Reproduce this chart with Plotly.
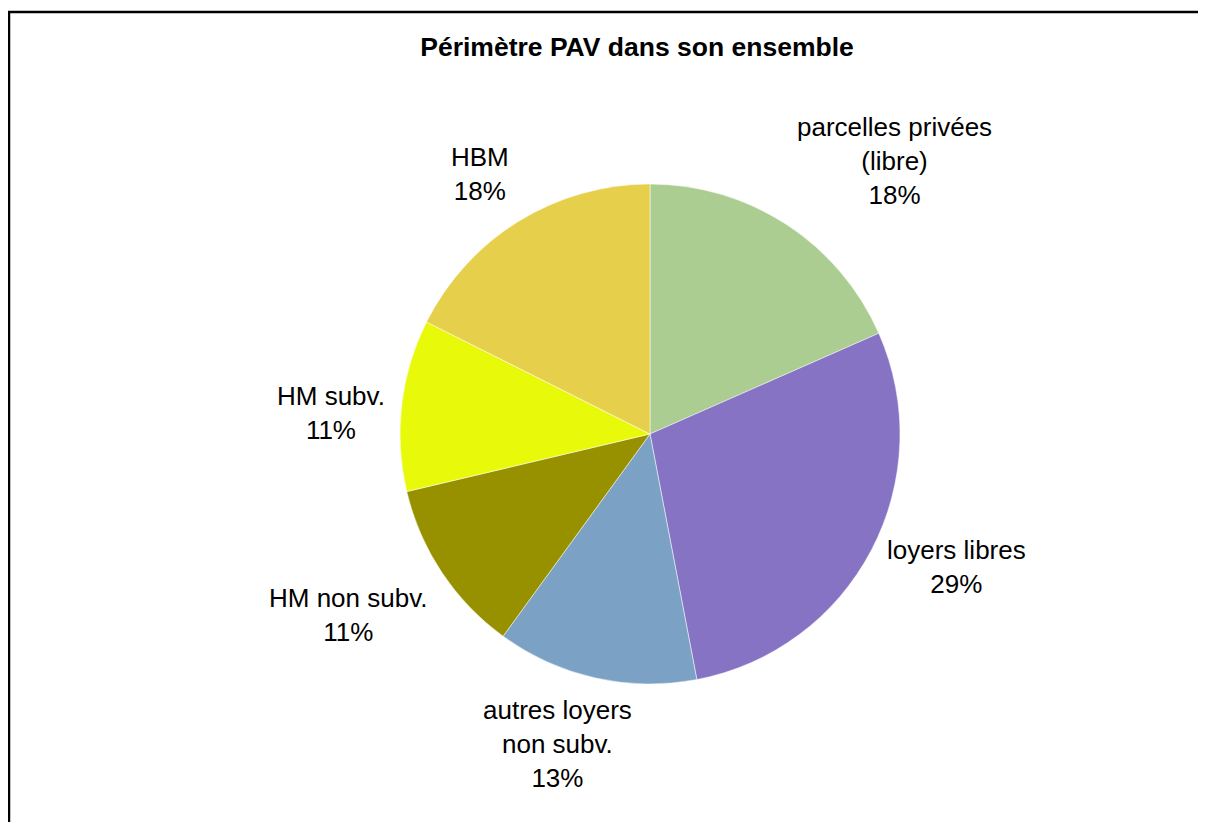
import math
import plotly.graph_objects as go

categories = ["parcelles privées (libre)", "loyers libres", "autres loyers non subv.",
              "HM non subv.", "HM subv.", "HBM"]
display_labels = ["parcelles privées<br>(libre)", "loyers libres", "autres loyers<br>non subv.",
                  "HM non subv.", "HM subv.", "HBM"]
values = [18.4, 28.6, 13.0, 11.3, 11.1, 17.6]
colors = ["#ABCD91", "#8673C3", "#7BA2C4", "#979100", "#E8FA0A", "#E6CF4A"]

W, H = 1206, 822
OX, OY = 8, 8  # page offset of the plot div
cx, cy, R = 650 - OX, 434 - OY, 250
GAP = 15

FONT = "Liberation Sans, Arial, sans-serif"

fig = go.Figure(go.Pie(
    labels=categories,
    values=values,
    sort=False,
    direction="clockwise",
    rotation=0,
    marker=dict(colors=colors, line=dict(color="white", width=0.5)),
    textinfo="none",
    hoverinfo="label+percent",
    showlegend=False,
    domain=dict(x=[(cx - R) / W, (cx + R) / W], y=[1 - (cy + R) / H, 1 - (cy - R) / H]),
))

# Outside labels, placed from each slice's mid-angle (Excel "best fit"-like anchoring)
total = sum(values)
annotations = []
cum = 0.0
for lab, v in zip(display_labels, values):
    mid = (cum + v / 2) / total * 2 * math.pi
    cum += v
    s, c = math.sin(mid), math.cos(mid)
    r = R + GAP
    px, py = cx + r * s, cy - r * c
    xa = "left" if s > 0.25 else ("right" if s < -0.25 else "center")
    ya = "bottom" if c > 0.5 else ("top" if c < -0.5 else "middle")
    xs = s * 160 if xa == "center" else 0
    ys = -10 if ya == "middle" else 0
    annotations.append(dict(
        x=px / W, y=1 - py / H, xref="paper", yref="paper",
        text=f"{lab}<br>{round(100 * v / total)}%",
        showarrow=False, xanchor=xa, yanchor=ya, align="center",
        xshift=xs, yshift=ys,
        font=dict(family=FONT, size=26, color="black"),
    ))

fig.update_layout(
    width=W, height=H,
    margin=dict(l=0, r=0, t=0, b=0),
    paper_bgcolor="white",
    plot_bgcolor="white",
    font=dict(family=FONT, size=26, color="black"),
    title=dict(text="<b>Périmètre PAV dans son ensemble</b>", x=(637 - OX) / W, xanchor="center",
               y=1 - (47 - OY) / H, yanchor="middle",
               font=dict(family=FONT, size=26.5, color="black")),
    annotations=annotations,
    shapes=[dict(type="rect", xref="paper", yref="paper",
                 x0=1 / W, x1=1.05, y0=-0.05, y1=1 - 4 / H,
                 line=dict(color="black", width=2.5), fillcolor="rgba(0,0,0,0)")],
)

fig.write_html("out.html")
